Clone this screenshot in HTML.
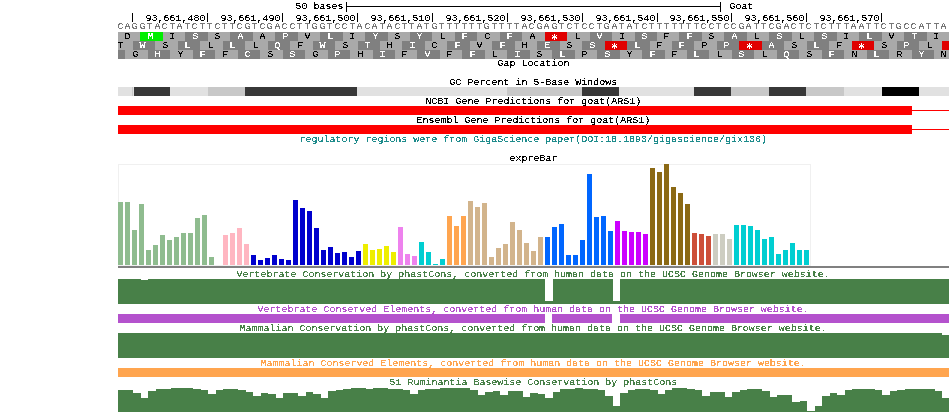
<!DOCTYPE html>
<html><head><meta charset="utf-8"><title>UCSC Genome Browser - goat</title>
<style>
html,body{margin:0;padding:0;background:#fff;width:950px;height:413px;overflow:hidden}
svg{display:block}
svg text{font-family:"Liberation Mono", "DejaVu Sans Mono", monospace;font-size:10.0px;letter-spacing:0.0px}
</style></head><body>
<svg width="950" height="413" viewBox="0 0 950 413">
<defs><filter id="crisp" x="0" y="0" width="950" height="413" filterUnits="userSpaceOnUse" color-interpolation-filters="sRGB"><feComponentTransfer><feFuncA type="discrete" tableValues="0 0 0 1 1 1 1 1"/></feComponentTransfer></filter><clipPath id="dataclip"><rect x="118" y="0" width="831" height="413"/></clipPath></defs>
<rect x="0" y="0" width="950" height="413" fill="#fff"/>
<g shape-rendering="crispEdges">
<rect x="346" y="2" width="1" height="10" fill="#000"/>
<rect x="346" y="6" width="375" height="1" fill="#000"/>
<rect x="720" y="2" width="1" height="10" fill="#000"/>
<rect x="132" y="13" width="1" height="9" fill="#000"/>
<rect x="207" y="13" width="1" height="9" fill="#000"/>
<rect x="282" y="13" width="1" height="9" fill="#000"/>
<rect x="357" y="13" width="1" height="9" fill="#000"/>
<rect x="432" y="13" width="1" height="9" fill="#000"/>
<rect x="507" y="13" width="1" height="9" fill="#000"/>
<rect x="582" y="13" width="1" height="9" fill="#000"/>
<rect x="657" y="13" width="1" height="9" fill="#000"/>
<rect x="731" y="13" width="1" height="9" fill="#000"/>
<rect x="806" y="13" width="1" height="9" fill="#000"/>
<rect x="881" y="13" width="1" height="9" fill="#000"/>
<rect x="118" y="32" width="22" height="9" fill="#a9a9a9"/>
<rect x="140" y="32" width="23" height="9" fill="#00ee00"/>
<rect x="163" y="32" width="22" height="9" fill="#a9a9a9"/>
<rect x="185" y="32" width="23" height="9" fill="#808080"/>
<rect x="208" y="32" width="22" height="9" fill="#a9a9a9"/>
<rect x="230" y="32" width="23" height="9" fill="#808080"/>
<rect x="253" y="32" width="22" height="9" fill="#a9a9a9"/>
<rect x="275" y="32" width="23" height="9" fill="#808080"/>
<rect x="298" y="32" width="22" height="9" fill="#a9a9a9"/>
<rect x="320" y="32" width="23" height="9" fill="#808080"/>
<rect x="343" y="32" width="22" height="9" fill="#a9a9a9"/>
<rect x="365" y="32" width="23" height="9" fill="#808080"/>
<rect x="388" y="32" width="22" height="9" fill="#a9a9a9"/>
<rect x="410" y="32" width="22" height="9" fill="#808080"/>
<rect x="432" y="32" width="23" height="9" fill="#a9a9a9"/>
<rect x="455" y="32" width="22" height="9" fill="#808080"/>
<rect x="477" y="32" width="23" height="9" fill="#a9a9a9"/>
<rect x="500" y="32" width="22" height="9" fill="#808080"/>
<rect x="522" y="32" width="23" height="9" fill="#a9a9a9"/>
<rect x="545" y="32" width="22" height="9" fill="#e00000"/>
<rect x="567" y="32" width="23" height="9" fill="#a9a9a9"/>
<rect x="590" y="32" width="22" height="9" fill="#808080"/>
<rect x="612" y="32" width="23" height="9" fill="#a9a9a9"/>
<rect x="635" y="32" width="22" height="9" fill="#808080"/>
<rect x="657" y="32" width="22" height="9" fill="#a9a9a9"/>
<rect x="679" y="32" width="23" height="9" fill="#808080"/>
<rect x="702" y="32" width="22" height="9" fill="#a9a9a9"/>
<rect x="724" y="32" width="23" height="9" fill="#808080"/>
<rect x="747" y="32" width="22" height="9" fill="#a9a9a9"/>
<rect x="769" y="32" width="23" height="9" fill="#808080"/>
<rect x="792" y="32" width="22" height="9" fill="#a9a9a9"/>
<rect x="814" y="32" width="23" height="9" fill="#808080"/>
<rect x="837" y="32" width="22" height="9" fill="#a9a9a9"/>
<rect x="859" y="32" width="23" height="9" fill="#808080"/>
<rect x="882" y="32" width="22" height="9" fill="#a9a9a9"/>
<rect x="904" y="32" width="23" height="9" fill="#808080"/>
<rect x="927" y="32" width="22" height="9" fill="#a9a9a9"/>
<rect x="118" y="41" width="15" height="9" fill="#a9a9a9"/>
<rect x="133" y="41" width="22" height="9" fill="#808080"/>
<rect x="155" y="41" width="23" height="9" fill="#a9a9a9"/>
<rect x="178" y="41" width="22" height="9" fill="#808080"/>
<rect x="200" y="41" width="23" height="9" fill="#a9a9a9"/>
<rect x="223" y="41" width="22" height="9" fill="#808080"/>
<rect x="245" y="41" width="23" height="9" fill="#a9a9a9"/>
<rect x="268" y="41" width="22" height="9" fill="#808080"/>
<rect x="290" y="41" width="23" height="9" fill="#a9a9a9"/>
<rect x="313" y="41" width="22" height="9" fill="#808080"/>
<rect x="335" y="41" width="23" height="9" fill="#a9a9a9"/>
<rect x="358" y="41" width="22" height="9" fill="#808080"/>
<rect x="380" y="41" width="22" height="9" fill="#a9a9a9"/>
<rect x="402" y="41" width="23" height="9" fill="#808080"/>
<rect x="425" y="41" width="22" height="9" fill="#a9a9a9"/>
<rect x="447" y="41" width="23" height="9" fill="#808080"/>
<rect x="470" y="41" width="22" height="9" fill="#a9a9a9"/>
<rect x="492" y="41" width="23" height="9" fill="#808080"/>
<rect x="515" y="41" width="22" height="9" fill="#a9a9a9"/>
<rect x="537" y="41" width="23" height="9" fill="#808080"/>
<rect x="560" y="41" width="22" height="9" fill="#a9a9a9"/>
<rect x="582" y="41" width="23" height="9" fill="#808080"/>
<rect x="605" y="41" width="22" height="9" fill="#e00000"/>
<rect x="627" y="41" width="23" height="9" fill="#808080"/>
<rect x="650" y="41" width="22" height="9" fill="#a9a9a9"/>
<rect x="672" y="41" width="22" height="9" fill="#808080"/>
<rect x="694" y="41" width="23" height="9" fill="#a9a9a9"/>
<rect x="717" y="41" width="22" height="9" fill="#808080"/>
<rect x="739" y="41" width="23" height="9" fill="#e00000"/>
<rect x="762" y="41" width="22" height="9" fill="#808080"/>
<rect x="784" y="41" width="23" height="9" fill="#a9a9a9"/>
<rect x="807" y="41" width="22" height="9" fill="#808080"/>
<rect x="829" y="41" width="23" height="9" fill="#a9a9a9"/>
<rect x="852" y="41" width="22" height="9" fill="#e00000"/>
<rect x="874" y="41" width="23" height="9" fill="#a9a9a9"/>
<rect x="897" y="41" width="22" height="9" fill="#808080"/>
<rect x="919" y="41" width="23" height="9" fill="#a9a9a9"/>
<rect x="942" y="41" width="7" height="9" fill="#e00000"/>
<rect x="118" y="50" width="7" height="9" fill="#808080"/>
<rect x="125" y="50" width="23" height="9" fill="#a9a9a9"/>
<rect x="148" y="50" width="22" height="9" fill="#808080"/>
<rect x="170" y="50" width="23" height="9" fill="#a9a9a9"/>
<rect x="193" y="50" width="22" height="9" fill="#808080"/>
<rect x="215" y="50" width="23" height="9" fill="#a9a9a9"/>
<rect x="238" y="50" width="22" height="9" fill="#808080"/>
<rect x="260" y="50" width="23" height="9" fill="#a9a9a9"/>
<rect x="283" y="50" width="22" height="9" fill="#808080"/>
<rect x="305" y="50" width="23" height="9" fill="#a9a9a9"/>
<rect x="328" y="50" width="22" height="9" fill="#808080"/>
<rect x="350" y="50" width="23" height="9" fill="#a9a9a9"/>
<rect x="373" y="50" width="22" height="9" fill="#808080"/>
<rect x="395" y="50" width="22" height="9" fill="#a9a9a9"/>
<rect x="417" y="50" width="23" height="9" fill="#808080"/>
<rect x="440" y="50" width="22" height="9" fill="#a9a9a9"/>
<rect x="462" y="50" width="23" height="9" fill="#808080"/>
<rect x="485" y="50" width="22" height="9" fill="#a9a9a9"/>
<rect x="507" y="50" width="23" height="9" fill="#808080"/>
<rect x="530" y="50" width="22" height="9" fill="#a9a9a9"/>
<rect x="552" y="50" width="23" height="9" fill="#808080"/>
<rect x="575" y="50" width="22" height="9" fill="#a9a9a9"/>
<rect x="597" y="50" width="23" height="9" fill="#808080"/>
<rect x="620" y="50" width="22" height="9" fill="#a9a9a9"/>
<rect x="642" y="50" width="23" height="9" fill="#808080"/>
<rect x="665" y="50" width="22" height="9" fill="#a9a9a9"/>
<rect x="687" y="50" width="22" height="9" fill="#808080"/>
<rect x="709" y="50" width="23" height="9" fill="#a9a9a9"/>
<rect x="732" y="50" width="22" height="9" fill="#808080"/>
<rect x="754" y="50" width="23" height="9" fill="#a9a9a9"/>
<rect x="777" y="50" width="22" height="9" fill="#808080"/>
<rect x="799" y="50" width="23" height="9" fill="#a9a9a9"/>
<rect x="822" y="50" width="22" height="9" fill="#808080"/>
<rect x="844" y="50" width="23" height="9" fill="#a9a9a9"/>
<rect x="867" y="50" width="22" height="9" fill="#808080"/>
<rect x="889" y="50" width="23" height="9" fill="#a9a9a9"/>
<rect x="912" y="50" width="22" height="9" fill="#808080"/>
<rect x="934" y="50" width="15" height="9" fill="#a9a9a9"/>
<rect x="118" y="87" width="14" height="9" fill="#e1e1e1"/>
<rect x="132" y="87" width="1" height="9" fill="#c8c8c8"/>
<rect x="133" y="87" width="1" height="9" fill="#e1e1e1"/>
<rect x="134" y="87" width="36" height="9" fill="#383838"/>
<rect x="170" y="87" width="38" height="9" fill="#e1e1e1"/>
<rect x="208" y="87" width="37" height="9" fill="#c8c8c8"/>
<rect x="245" y="87" width="112" height="9" fill="#383838"/>
<rect x="357" y="87" width="150" height="9" fill="#e1e1e1"/>
<rect x="507" y="87" width="75" height="9" fill="#c8c8c8"/>
<rect x="582" y="87" width="37" height="9" fill="#383838"/>
<rect x="619" y="87" width="75" height="9" fill="#e1e1e1"/>
<rect x="694" y="87" width="37" height="9" fill="#383838"/>
<rect x="731" y="87" width="38" height="9" fill="#c8c8c8"/>
<rect x="769" y="87" width="37" height="9" fill="#383838"/>
<rect x="806" y="87" width="38" height="9" fill="#c8c8c8"/>
<rect x="844" y="87" width="38" height="9" fill="#e1e1e1"/>
<rect x="882" y="87" width="37" height="9" fill="#000000"/>
<rect x="919" y="87" width="30" height="9" fill="#e1e1e1"/>
<rect x="118" y="106" width="794" height="9" fill="#ff0000"/>
<rect x="912" y="110" width="37" height="1" fill="#ff0000"/>
<rect x="118" y="125" width="794" height="9" fill="#ff0000"/>
<rect x="912" y="129" width="37" height="1" fill="#ff0000"/>
<rect x="118.5" y="164.5" width="692" height="101" fill="none" stroke="#f0f0f0" stroke-width="1"/>
<rect x="118" y="202" width="5" height="63" fill="#8fbc8f"/>
<rect x="125" y="202" width="5" height="63" fill="#8fbc8f"/>
<rect x="132" y="230" width="5" height="35" fill="#8fbc8f"/>
<rect x="139" y="204" width="5" height="61" fill="#8fbc8f"/>
<rect x="146" y="250" width="5" height="15" fill="#8fbc8f"/>
<rect x="153" y="245" width="5" height="20" fill="#8fbc8f"/>
<rect x="160" y="235" width="5" height="30" fill="#8fbc8f"/>
<rect x="167" y="240" width="5" height="25" fill="#8fbc8f"/>
<rect x="174" y="237" width="5" height="28" fill="#8fbc8f"/>
<rect x="181" y="233" width="5" height="32" fill="#8fbc8f"/>
<rect x="188" y="233" width="5" height="32" fill="#8fbc8f"/>
<rect x="195" y="218" width="5" height="47" fill="#8fbc8f"/>
<rect x="202" y="215" width="5" height="50" fill="#8fbc8f"/>
<rect x="209" y="257" width="5" height="8" fill="#8fbc8f"/>
<rect x="223" y="235" width="5" height="30" fill="#ffb6c1"/>
<rect x="230" y="233" width="5" height="32" fill="#ffb6c1"/>
<rect x="237" y="228" width="5" height="37" fill="#ffb6c1"/>
<rect x="244" y="244" width="5" height="21" fill="#ffb6c1"/>
<rect x="251" y="255" width="5" height="10" fill="#0000cd"/>
<rect x="258" y="260" width="5" height="5" fill="#0000cd"/>
<rect x="265" y="258" width="5" height="7" fill="#0000cd"/>
<rect x="272" y="255" width="5" height="10" fill="#0000cd"/>
<rect x="279" y="259" width="5" height="6" fill="#0000cd"/>
<rect x="286" y="260" width="5" height="5" fill="#0000cd"/>
<rect x="293" y="200" width="5" height="65" fill="#0000cd"/>
<rect x="300" y="208" width="5" height="57" fill="#0000cd"/>
<rect x="307" y="211" width="5" height="54" fill="#0000cd"/>
<rect x="314" y="228" width="5" height="37" fill="#0000cd"/>
<rect x="321" y="250" width="5" height="15" fill="#0000cd"/>
<rect x="328" y="247" width="5" height="18" fill="#0000cd"/>
<rect x="335" y="253" width="5" height="12" fill="#0000cd"/>
<rect x="342" y="252" width="5" height="13" fill="#0000cd"/>
<rect x="349" y="257" width="5" height="8" fill="#0000cd"/>
<rect x="356" y="251" width="5" height="14" fill="#0000cd"/>
<rect x="363" y="244" width="5" height="21" fill="#eeee00"/>
<rect x="370" y="250" width="5" height="15" fill="#eeee00"/>
<rect x="377" y="249" width="5" height="16" fill="#eeee00"/>
<rect x="384" y="246" width="5" height="19" fill="#eeee00"/>
<rect x="391" y="252" width="5" height="13" fill="#eeee00"/>
<rect x="398" y="227" width="5" height="38" fill="#ee82ee"/>
<rect x="405" y="254" width="5" height="11" fill="#ee82ee"/>
<rect x="412" y="256" width="5" height="9" fill="#ee82ee"/>
<rect x="419" y="242" width="5" height="23" fill="#00ced1"/>
<rect x="426" y="252" width="5" height="13" fill="#00ced1"/>
<rect x="433" y="264" width="5" height="1" fill="#00ced1"/>
<rect x="440" y="259" width="5" height="6" fill="#00ced1"/>
<rect x="447" y="216" width="5" height="49" fill="#ffa54f"/>
<rect x="454" y="226" width="5" height="39" fill="#ffa54f"/>
<rect x="461" y="216" width="5" height="49" fill="#ffa54f"/>
<rect x="468" y="201" width="5" height="64" fill="#d2b48c"/>
<rect x="475" y="207" width="5" height="58" fill="#d2b48c"/>
<rect x="482" y="203" width="5" height="62" fill="#d2b48c"/>
<rect x="489" y="257" width="5" height="8" fill="#d2b48c"/>
<rect x="496" y="248" width="5" height="17" fill="#d2b48c"/>
<rect x="503" y="244" width="5" height="21" fill="#d2b48c"/>
<rect x="510" y="222" width="5" height="43" fill="#d2b48c"/>
<rect x="517" y="230" width="5" height="35" fill="#d2b48c"/>
<rect x="524" y="243" width="5" height="22" fill="#d2b48c"/>
<rect x="531" y="251" width="5" height="14" fill="#d2b48c"/>
<rect x="538" y="237" width="5" height="28" fill="#d2b48c"/>
<rect x="545" y="237" width="5" height="28" fill="#0066ff"/>
<rect x="552" y="227" width="5" height="38" fill="#0066ff"/>
<rect x="559" y="224" width="5" height="41" fill="#0066ff"/>
<rect x="566" y="255" width="5" height="10" fill="#0066ff"/>
<rect x="573" y="255" width="5" height="10" fill="#0066ff"/>
<rect x="580" y="240" width="5" height="25" fill="#0066ff"/>
<rect x="587" y="174" width="5" height="91" fill="#0066ff"/>
<rect x="594" y="217" width="5" height="48" fill="#0066ff"/>
<rect x="601" y="216" width="5" height="49" fill="#0066ff"/>
<rect x="608" y="231" width="5" height="34" fill="#0066ff"/>
<rect x="615" y="221" width="5" height="44" fill="#cc00ff"/>
<rect x="622" y="231" width="5" height="34" fill="#cc00ff"/>
<rect x="629" y="232" width="5" height="33" fill="#cc00ff"/>
<rect x="636" y="232" width="5" height="33" fill="#cc00ff"/>
<rect x="643" y="234" width="5" height="31" fill="#cc00ff"/>
<rect x="650" y="168" width="5" height="97" fill="#8b6914"/>
<rect x="657" y="172" width="5" height="93" fill="#8b6914"/>
<rect x="664" y="164" width="5" height="101" fill="#8b6914"/>
<rect x="671" y="187" width="5" height="78" fill="#8b6914"/>
<rect x="678" y="193" width="5" height="72" fill="#8b6914"/>
<rect x="685" y="204" width="5" height="61" fill="#8b6914"/>
<rect x="692" y="233" width="5" height="32" fill="#cd4f39"/>
<rect x="699" y="234" width="5" height="31" fill="#cd4f39"/>
<rect x="706" y="236" width="5" height="29" fill="#cd4f39"/>
<rect x="713" y="234" width="5" height="31" fill="#cdcdc1"/>
<rect x="720" y="234" width="5" height="31" fill="#cdcdc1"/>
<rect x="727" y="239" width="5" height="26" fill="#cdcdc1"/>
<rect x="734" y="225" width="5" height="40" fill="#00ced1"/>
<rect x="741" y="225" width="5" height="40" fill="#00ced1"/>
<rect x="748" y="226" width="5" height="39" fill="#00ced1"/>
<rect x="755" y="230" width="5" height="35" fill="#00ced1"/>
<rect x="762" y="239" width="5" height="26" fill="#00ced1"/>
<rect x="769" y="237" width="5" height="28" fill="#00ced1"/>
<rect x="776" y="254" width="5" height="11" fill="#00ced1"/>
<rect x="783" y="250" width="5" height="15" fill="#00ced1"/>
<rect x="790" y="243" width="5" height="22" fill="#00ced1"/>
<rect x="797" y="250" width="5" height="15" fill="#00ced1"/>
<rect x="804" y="250" width="5" height="15" fill="#00ced1"/>
<rect x="118" y="266" width="831" height="2" fill="#808080"/>
<rect x="118" y="279" width="831" height="25" fill="#488048"/>
<rect x="141" y="279" width="7" height="1" fill="#ffffff"/>
<rect x="545" y="279" width="8" height="22" fill="#ffffff"/>
<rect x="613" y="279" width="7" height="22" fill="#ffffff"/>
<rect x="118" y="314" width="427" height="9" fill="#b452cd"/>
<rect x="552" y="314" width="60" height="9" fill="#b452cd"/>
<rect x="620" y="314" width="329" height="9" fill="#b452cd"/>
<rect x="118" y="333" width="831" height="25" fill="#488048"/>
<rect x="942" y="333" width="7" height="2" fill="#ffffff"/>
<rect x="118" y="368" width="831" height="9" fill="#ffa54f"/>
<polygon points="118,412 118,390 126,390 126,390 133,390 133,393 141,393 141,398 148,398 148,391 156,391 156,389 163,389 163,389 171,389 171,388 178,388 178,388 186,388 186,388 193,388 193,389 201,389 201,390 208,390 208,394 216,394 216,390 223,390 223,389 231,389 231,389 238,389 238,390 246,390 246,392 253,392 253,396 261,396 261,393 268,393 268,394 276,394 276,398 283,398 283,393 291,393 291,393 298,393 298,396 306,396 306,392 313,392 313,394 321,394 321,398 328,398 328,391 336,391 336,390 343,390 343,389 351,389 351,388 358,388 358,388 366,388 366,389 373,389 373,388 381,388 381,388 388,388 388,389 395,389 395,389 403,389 403,390 410,390 410,394 418,394 418,390 425,390 425,389 433,389 433,389 440,389 440,388 448,388 448,388 455,388 455,388 463,388 463,388 470,388 470,390 478,390 478,395 485,395 485,392 493,392 493,391 500,391 500,395 508,395 508,391 515,391 515,391 523,391 523,397 530,397 530,393 538,393 538,394 545,394 545,398 553,398 553,392 560,392 560,389 568,389 568,389 575,389 575,388 583,388 583,389 590,389 590,389 598,389 598,390 605,390 605,396 613,396 613,406 620,406 620,393 628,393 628,390 635,390 635,389 643,389 643,389 650,389 650,390 658,390 658,394 665,394 665,390 672,390 672,388 680,388 680,388 687,388 687,389 695,389 695,390 702,390 702,396 710,396 710,392 717,392 717,392 725,392 725,397 732,397 732,392 740,392 740,390 747,390 747,389 755,389 755,389 762,389 762,391 770,391 770,397 777,397 777,395 785,395 785,395 792,395 792,402 800,402 800,401 807,401 807,411 815,411 815,406 822,406 822,396 830,396 830,393 837,393 837,395 845,395 845,390 852,390 852,389 860,389 860,389 867,389 867,389 875,389 875,390 882,390 882,395 890,395 890,391 897,391 897,390 905,390 905,389 912,389 912,389 920,389 920,389 927,389 927,389 935,389 935,391 942,391 942,398 949,398 949,412" fill="#488048"/>
</g>
<g filter="url(#crisp)">
<g transform="scale(1,0.9)">
<text x="295.5" y="10.000">50 bases</text>
<text x="729.5" y="10.000">Goat</text>
<text x="145.5" y="23.333">93,661,480</text>
<text x="220.5" y="23.333">93,661,490</text>
<text x="295.5" y="23.333">93,661,500</text>
<text x="370.5" y="23.333">93,661,510</text>
<text x="445.5" y="23.333">93,661,520</text>
<text x="520.5" y="23.333">93,661,530</text>
<text x="595.5" y="23.333">93,661,540</text>
<text x="669.5" y="23.333">93,661,550</text>
<text x="744.5" y="23.333">93,661,560</text>
<text x="819.5" y="23.333">93,661,570</text>
<text x="117.5" y="32.222" fill="#787878">C</text>
<text x="124.5" y="32.222" fill="#787878">A</text>
<text x="131.5" y="32.222" fill="#787878">G</text>
<text x="139.5" y="32.222" fill="#787878">G</text>
<text x="146.5" y="32.222" fill="#787878">T</text>
<text x="154.5" y="32.222" fill="#787878">A</text>
<text x="161.5" y="32.222" fill="#787878">C</text>
<text x="169.5" y="32.222" fill="#787878">T</text>
<text x="176.5" y="32.222" fill="#787878">A</text>
<text x="184.5" y="32.222" fill="#787878">T</text>
<text x="191.5" y="32.222" fill="#787878">C</text>
<text x="199.5" y="32.222" fill="#787878">T</text>
<text x="206.5" y="32.222" fill="#787878">T</text>
<text x="214.5" y="32.222" fill="#787878">C</text>
<text x="221.5" y="32.222" fill="#787878">T</text>
<text x="229.5" y="32.222" fill="#787878">T</text>
<text x="236.5" y="32.222" fill="#787878">C</text>
<text x="244.5" y="32.222" fill="#787878">G</text>
<text x="251.5" y="32.222" fill="#787878">T</text>
<text x="259.5" y="32.222" fill="#787878">C</text>
<text x="266.5" y="32.222" fill="#787878">G</text>
<text x="274.5" y="32.222" fill="#787878">A</text>
<text x="281.5" y="32.222" fill="#787878">C</text>
<text x="289.5" y="32.222" fill="#787878">C</text>
<text x="296.5" y="32.222" fill="#787878">T</text>
<text x="304.5" y="32.222" fill="#787878">T</text>
<text x="311.5" y="32.222" fill="#787878">G</text>
<text x="319.5" y="32.222" fill="#787878">G</text>
<text x="326.5" y="32.222" fill="#787878">T</text>
<text x="334.5" y="32.222" fill="#787878">C</text>
<text x="341.5" y="32.222" fill="#787878">C</text>
<text x="349.5" y="32.222" fill="#787878">T</text>
<text x="356.5" y="32.222" fill="#787878">A</text>
<text x="364.5" y="32.222" fill="#787878">C</text>
<text x="371.5" y="32.222" fill="#787878">A</text>
<text x="379.5" y="32.222" fill="#787878">T</text>
<text x="386.5" y="32.222" fill="#787878">A</text>
<text x="394.5" y="32.222" fill="#787878">C</text>
<text x="401.5" y="32.222" fill="#787878">T</text>
<text x="408.5" y="32.222" fill="#787878">T</text>
<text x="416.5" y="32.222" fill="#787878">A</text>
<text x="423.5" y="32.222" fill="#787878">T</text>
<text x="431.5" y="32.222" fill="#787878">G</text>
<text x="438.5" y="32.222" fill="#787878">T</text>
<text x="446.5" y="32.222" fill="#787878">T</text>
<text x="453.5" y="32.222" fill="#787878">T</text>
<text x="461.5" y="32.222" fill="#787878">T</text>
<text x="468.5" y="32.222" fill="#787878">T</text>
<text x="476.5" y="32.222" fill="#787878">T</text>
<text x="483.5" y="32.222" fill="#787878">G</text>
<text x="491.5" y="32.222" fill="#787878">T</text>
<text x="498.5" y="32.222" fill="#787878">T</text>
<text x="506.5" y="32.222" fill="#787878">T</text>
<text x="513.5" y="32.222" fill="#787878">T</text>
<text x="521.5" y="32.222" fill="#787878">A</text>
<text x="528.5" y="32.222" fill="#787878">C</text>
<text x="536.5" y="32.222" fill="#787878">G</text>
<text x="543.5" y="32.222" fill="#787878">A</text>
<text x="551.5" y="32.222" fill="#787878">G</text>
<text x="558.5" y="32.222" fill="#787878">T</text>
<text x="566.5" y="32.222" fill="#787878">C</text>
<text x="573.5" y="32.222" fill="#787878">T</text>
<text x="581.5" y="32.222" fill="#787878">C</text>
<text x="588.5" y="32.222" fill="#787878">C</text>
<text x="596.5" y="32.222" fill="#787878">T</text>
<text x="603.5" y="32.222" fill="#787878">G</text>
<text x="611.5" y="32.222" fill="#787878">A</text>
<text x="618.5" y="32.222" fill="#787878">T</text>
<text x="626.5" y="32.222" fill="#787878">A</text>
<text x="633.5" y="32.222" fill="#787878">T</text>
<text x="641.5" y="32.222" fill="#787878">C</text>
<text x="648.5" y="32.222" fill="#787878">T</text>
<text x="656.5" y="32.222" fill="#787878">T</text>
<text x="663.5" y="32.222" fill="#787878">T</text>
<text x="671.5" y="32.222" fill="#787878">T</text>
<text x="678.5" y="32.222" fill="#787878">T</text>
<text x="685.5" y="32.222" fill="#787878">T</text>
<text x="693.5" y="32.222" fill="#787878">T</text>
<text x="700.5" y="32.222" fill="#787878">C</text>
<text x="708.5" y="32.222" fill="#787878">C</text>
<text x="715.5" y="32.222" fill="#787878">T</text>
<text x="723.5" y="32.222" fill="#787878">C</text>
<text x="730.5" y="32.222" fill="#787878">C</text>
<text x="738.5" y="32.222" fill="#787878">G</text>
<text x="745.5" y="32.222" fill="#787878">A</text>
<text x="753.5" y="32.222" fill="#787878">T</text>
<text x="760.5" y="32.222" fill="#787878">T</text>
<text x="768.5" y="32.222" fill="#787878">C</text>
<text x="775.5" y="32.222" fill="#787878">G</text>
<text x="783.5" y="32.222" fill="#787878">A</text>
<text x="790.5" y="32.222" fill="#787878">C</text>
<text x="798.5" y="32.222" fill="#787878">T</text>
<text x="805.5" y="32.222" fill="#787878">C</text>
<text x="813.5" y="32.222" fill="#787878">T</text>
<text x="820.5" y="32.222" fill="#787878">C</text>
<text x="828.5" y="32.222" fill="#787878">T</text>
<text x="835.5" y="32.222" fill="#787878">T</text>
<text x="843.5" y="32.222" fill="#787878">T</text>
<text x="850.5" y="32.222" fill="#787878">A</text>
<text x="858.5" y="32.222" fill="#787878">A</text>
<text x="865.5" y="32.222" fill="#787878">T</text>
<text x="873.5" y="32.222" fill="#787878">T</text>
<text x="880.5" y="32.222" fill="#787878">C</text>
<text x="888.5" y="32.222" fill="#787878">T</text>
<text x="895.5" y="32.222" fill="#787878">G</text>
<text x="903.5" y="32.222" fill="#787878">C</text>
<text x="910.5" y="32.222" fill="#787878">C</text>
<text x="918.5" y="32.222" fill="#787878">A</text>
<text x="925.5" y="32.222" fill="#787878">T</text>
<text x="933.5" y="32.222" fill="#787878">T</text>
<text x="940.5" y="32.222" fill="#787878">A</text>
<text x="497.5" y="73.333">Gap Location</text>
<text x="449.5" y="94.444">GC Percent in 5-Base Windows</text>
<text x="425.5" y="115.556">NCBI Gene Predictions for goat(ARS1)</text>
<text x="416.5" y="136.667">Ensembl Gene Predictions for goat(ARS1)</text>
<text x="299.5" y="157.778" fill="#1e8c8c">regulatory regions were from GigaScience paper(DOI:10.1093/gigascience/gix136)</text>
<text x="509.5" y="178.889">expreBar</text>
<text x="236.5" y="307.778" fill="#488048">Vertebrate Conservation by phastCons, converted from human data on the UCSC Genome Browser website.</text>
<text x="257.5" y="346.667" fill="#b452cd">Vertebrate Conserved Elements, converted from human data on the UCSC Genome Browser website.</text>
<text x="239.5" y="367.778" fill="#488048">Mammalian Conservation by phastCons, converted from human data on the UCSC Genome Browser website.</text>
<text x="260.5" y="406.667" fill="#ffa54f">Mammalian Conserved Elements, converted from human data on the UCSC Genome Browser website.</text>
<text x="389.5" y="427.778" fill="#488048">51 Ruminantia Basewise Conservation by phastCons</text>
</g>
<g clip-path="url(#dataclip)"><g transform="scale(1,0.9)"><text x="124.5" y="43.333" fill="#000">D</text><text x="147.5" y="43.333" fill="#fff">M</text><text x="169.5" y="43.333" fill="#000">I</text><text x="192.5" y="43.333" fill="#fff">S</text><text x="214.5" y="43.333" fill="#000">S</text><text x="237.5" y="43.333" fill="#fff">A</text><text x="259.5" y="43.333" fill="#000">A</text><text x="282.5" y="43.333" fill="#fff">P</text><text x="304.5" y="43.333" fill="#000">V</text><text x="327.5" y="43.333" fill="#fff">L</text><text x="349.5" y="43.333" fill="#000">I</text><text x="372.5" y="43.333" fill="#fff">Y</text><text x="394.5" y="43.333" fill="#000">S</text><text x="416.5" y="43.333" fill="#fff">Y</text><text x="439.5" y="43.333" fill="#000">L</text><text x="461.5" y="43.333" fill="#fff">F</text><text x="484.5" y="43.333" fill="#000">C</text><text x="506.5" y="43.333" fill="#fff">F</text><text x="529.5" y="43.333" fill="#000">A</text><text x="574.5" y="43.333" fill="#000">L</text><text x="596.5" y="43.333" fill="#fff">V</text><text x="619.5" y="43.333" fill="#000">I</text><text x="641.5" y="43.333" fill="#fff">S</text><text x="663.5" y="43.333" fill="#000">F</text><text x="686.5" y="43.333" fill="#fff">F</text><text x="708.5" y="43.333" fill="#000">S</text><text x="731.5" y="43.333" fill="#fff">A</text><text x="753.5" y="43.333" fill="#000">L</text><text x="776.5" y="43.333" fill="#fff">S</text><text x="798.5" y="43.333" fill="#000">L</text><text x="821.5" y="43.333" fill="#fff">S</text><text x="843.5" y="43.333" fill="#000">I</text><text x="866.5" y="43.333" fill="#fff">L</text><text x="888.5" y="43.333" fill="#000">V</text><text x="911.5" y="43.333" fill="#fff">T</text><text x="933.5" y="43.333" fill="#000">I</text><text x="117.5" y="53.333" fill="#000">T</text><text x="139.5" y="53.333" fill="#fff">W</text><text x="162.5" y="53.333" fill="#000">S</text><text x="184.5" y="53.333" fill="#fff">L</text><text x="207.5" y="53.333" fill="#000">L</text><text x="229.5" y="53.333" fill="#fff">L</text><text x="252.5" y="53.333" fill="#000">L</text><text x="274.5" y="53.333" fill="#fff">Q</text><text x="297.5" y="53.333" fill="#000">F</text><text x="319.5" y="53.333" fill="#fff">W</text><text x="342.5" y="53.333" fill="#000">S</text><text x="364.5" y="53.333" fill="#fff">T</text><text x="386.5" y="53.333" fill="#000">H</text><text x="409.5" y="53.333" fill="#fff">I</text><text x="431.5" y="53.333" fill="#000">C</text><text x="454.5" y="53.333" fill="#fff">F</text><text x="476.5" y="53.333" fill="#000">V</text><text x="499.5" y="53.333" fill="#fff">F</text><text x="521.5" y="53.333" fill="#000">H</text><text x="544.5" y="53.333" fill="#fff">E</text><text x="566.5" y="53.333" fill="#000">S</text><text x="589.5" y="53.333" fill="#fff">S</text><text x="634.5" y="53.333" fill="#fff">L</text><text x="656.5" y="53.333" fill="#000">F</text><text x="678.5" y="53.333" fill="#fff">F</text><text x="701.5" y="53.333" fill="#000">P</text><text x="723.5" y="53.333" fill="#fff">P</text><text x="768.5" y="53.333" fill="#fff">A</text><text x="791.5" y="53.333" fill="#000">S</text><text x="813.5" y="53.333" fill="#fff">L</text><text x="836.5" y="53.333" fill="#000">F</text><text x="881.5" y="53.333" fill="#000">S</text><text x="903.5" y="53.333" fill="#fff">P</text><text x="926.5" y="53.333" fill="#000">L</text><text x="132.5" y="63.333" fill="#000">G</text><text x="154.5" y="63.333" fill="#fff">H</text><text x="177.5" y="63.333" fill="#000">Y</text><text x="199.5" y="63.333" fill="#fff">F</text><text x="222.5" y="63.333" fill="#000">F</text><text x="244.5" y="63.333" fill="#fff">C</text><text x="267.5" y="63.333" fill="#000">S</text><text x="289.5" y="63.333" fill="#fff">S</text><text x="312.5" y="63.333" fill="#000">G</text><text x="334.5" y="63.333" fill="#fff">P</text><text x="357.5" y="63.333" fill="#000">H</text><text x="379.5" y="63.333" fill="#fff">I</text><text x="401.5" y="63.333" fill="#000">F</text><text x="424.5" y="63.333" fill="#fff">V</text><text x="446.5" y="63.333" fill="#000">F</text><text x="469.5" y="63.333" fill="#fff">F</text><text x="491.5" y="63.333" fill="#000">L</text><text x="514.5" y="63.333" fill="#fff">I</text><text x="536.5" y="63.333" fill="#000">S</text><text x="559.5" y="63.333" fill="#fff">L</text><text x="581.5" y="63.333" fill="#000">P</text><text x="604.5" y="63.333" fill="#fff">S</text><text x="626.5" y="63.333" fill="#000">Y</text><text x="649.5" y="63.333" fill="#fff">F</text><text x="671.5" y="63.333" fill="#000">F</text><text x="693.5" y="63.333" fill="#fff">L</text><text x="716.5" y="63.333" fill="#000">L</text><text x="738.5" y="63.333" fill="#fff">S</text><text x="761.5" y="63.333" fill="#000">L</text><text x="783.5" y="63.333" fill="#fff">Q</text><text x="806.5" y="63.333" fill="#000">S</text><text x="828.5" y="63.333" fill="#fff">F</text><text x="851.5" y="63.333" fill="#000">N</text><text x="873.5" y="63.333" fill="#fff">L</text><text x="896.5" y="63.333" fill="#000">R</text><text x="918.5" y="63.333" fill="#fff">Y</text><text x="940.5" y="63.333" fill="#000">N</text></g><text x="551" y="43" fill="#fff" style="font-family:'DejaVu Sans Mono',monospace;font-size:12px">*</text><text x="611" y="52" fill="#fff" style="font-family:'DejaVu Sans Mono',monospace;font-size:12px">*</text><text x="746" y="52" fill="#fff" style="font-family:'DejaVu Sans Mono',monospace;font-size:12px">*</text><text x="858" y="52" fill="#fff" style="font-family:'DejaVu Sans Mono',monospace;font-size:12px">*</text><text x="948" y="52" fill="#fff" style="font-family:'DejaVu Sans Mono',monospace;font-size:12px">*</text></g>
</g>
</svg>
</body></html>
